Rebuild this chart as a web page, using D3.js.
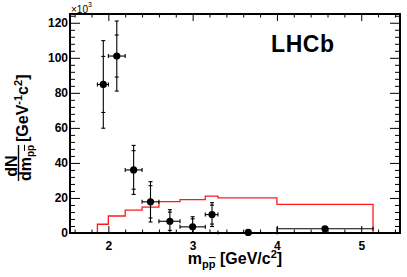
<!DOCTYPE html>
<html>
<head>
<meta charset="utf-8">
<script src="https://cdn.jsdelivr.net/npm/d3@7"></script>
<style>
  body { margin: 0; background: #fff; }
  text { font-family: "Liberation Sans", Arial, Helvetica, sans-serif; }
</style>
</head>
<body>
<svg id="chart" width="407" height="277"></svg>
<script>
// bins in m(p pbar) [GeV/c^2]
var binLo = [1.87, 2.0, 2.2, 2.4, 2.6, 2.85, 3.15, 3.3, 4.0];
var binHi = [2.0, 2.2, 2.4, 2.6, 2.85, 3.15, 3.3, 4.0, 5.14];
// data points (x10^3)
var ptX = [1.94, 2.10, 2.30, 2.50, 2.73, 3.00, 3.23, 3.66, 4.57];
var ptY = [84.8, 101, 36, 17.8, 6.7, 3.5, 10.5, 0.3, 2.4];
var errTot = [25, 20, 14, 11.5, 6.6, 5.8, 6.8, 0.4, 1.0];
var errStat = [16, 12, 11, 9.2, 5.2, 4.6, 5.4, 0.3, 0.7];
// red histogram (phase space)
var histY = [5.0, 9.7, 13.0, 14.8, 17.9, 19.0, 21.0, 20.1, 16.3];
// axis ticks
var xMajor = [2, 3, 4, 5];
var yMajor = [0, 20, 40, 60, 80, 100, 120];

var svg = d3.select("#chart");
var padL = 70, padR = 400, padT = 14, padB = 233;

var x = d3.scaleLinear().domain([1.545, 5.46]).range([padL, padR]);
var y = d3.scaleLinear().domain([0, 125]).range([padB, padT]);

var xMinor = d3.range(1.6, 5.45, 0.2).filter(function (v) {
    return Math.abs(v - Math.round(v)) > 0.01;
});
var yMinor = d3.range(0, 125, 4).filter(function (v) { return v % 20 !== 0; });

// ---- axes (ticks point inward, mirrored on top / right)
function addAxis(axis, tr) {
    var g = svg.append("g").attr("transform", tr).call(axis);
    g.select(".domain").remove();
    g.selectAll("line").attr("stroke", "#000").attr("stroke-width", 1);
    return g;
}
var xb = addAxis(d3.axisBottom(x).tickValues(xMajor).tickSize(-7).tickPadding(8)
    .tickFormat(d3.format("d")), "translate(0," + padB + ")");
addAxis(d3.axisBottom(x).tickValues(xMinor).tickSize(-3.5).tickFormat(""), "translate(0," + padB + ")");
addAxis(d3.axisTop(x).tickValues(xMajor).tickSize(-7).tickFormat(""), "translate(0," + padT + ")");
addAxis(d3.axisTop(x).tickValues(xMinor).tickSize(-3.5).tickFormat(""), "translate(0," + padT + ")");

var yl = addAxis(d3.axisLeft(y).tickValues(yMajor).tickSize(-10).tickPadding(2)
    .tickFormat(d3.format("d")), "translate(" + padL + ",0)");
addAxis(d3.axisLeft(y).tickValues(yMinor).tickSize(-5).tickFormat(""), "translate(" + padL + ",0)");
addAxis(d3.axisRight(y).tickValues(yMajor).tickSize(-10).tickFormat(""), "translate(" + padR + ",0)");
addAxis(d3.axisRight(y).tickValues(yMinor).tickSize(-5).tickFormat(""), "translate(" + padR + ",0)");

[xb, yl].forEach(function (g) {
    g.selectAll("text")
        .attr("font-family", "Liberation Sans, Arial, sans-serif")
        .attr("font-size", 12)
        .attr("font-weight", "bold")
        .attr("fill", "#000");
});

// ---- red histogram
var histPts = [[x(binLo[0]), y(0)]];
histY.forEach(function (v, i) {
    histPts.push([x(binLo[i]), y(v)]);
    histPts.push([x(binHi[i]), y(v)]);
});
histPts.push([x(binHi[binHi.length - 1]), y(0)]);
svg.append("path")
    .attr("d", d3.line()(histPts))
    .attr("fill", "none")
    .attr("stroke", "#ff1a1a")
    .attr("stroke-width", 1.3);

// ---- data points with errors
var pts = ptX.map(function (v, i) {
    return { x: v, y: ptY[i], lo: binLo[i], hi: binHi[i], et: errTot[i], es: errStat[i] };
});
var cap = 2;
var eg = svg.append("g").attr("stroke", "#000").attr("stroke-width", 1.1);
pts.forEach(function (d) {
    var cx = x(d.x), cy = y(d.y);
    var yTop = y(d.y + d.et), yBot = y(Math.max(0, d.y - d.et));
    eg.append("line").attr("x1", cx).attr("x2", cx).attr("y1", yTop).attr("y2", yBot);
    eg.append("line").attr("x1", x(d.lo)).attr("x2", x(d.hi)).attr("y1", cy).attr("y2", cy);
    // end caps: total and stat
    [d.y + d.et, d.y - d.et, d.y + d.es, d.y - d.es].forEach(function (v) {
        if (v < 0) return;
        eg.append("line").attr("x1", cx - cap).attr("x2", cx + cap)
            .attr("y1", y(v)).attr("y2", y(v));
    });
    [d.lo, d.hi].forEach(function (v) {
        eg.append("line").attr("x1", x(v)).attr("x2", x(v))
            .attr("y1", cy - cap).attr("y2", cy + cap);
    });
});
svg.append("g").selectAll("circle")
    .data(pts)
    .enter()
    .append("circle")
    .attr("cx", function (d) { return x(d.x); })
    .attr("cy", function (d) { return y(d.y); })
    .attr("r", 3.6)
    .attr("fill", "#000");

// ---- frame
svg.append("rect")
    .attr("x", padL).attr("y", padT)
    .attr("width", padR - padL).attr("height", padB - padT)
    .attr("fill", "none").attr("stroke", "#000").attr("stroke-width", 2);

// ---- x10^3
var mult = svg.append("text").attr("x", 71).attr("y", 13).attr("font-size", 10);
mult.append("tspan").text("\u00d710");
mult.append("tspan").attr("font-size", 7).attr("dy", -6).text("3");

// ---- LHCb label
svg.append("text")
    .attr("x", 271).attr("y", 51.5)
    .attr("font-size", 23).attr("font-weight", "bold")
    .attr("letter-spacing", 0.6)
    .text("LHCb");

// ---- x axis title
var xt = svg.append("text")
    .attr("x", (padL + padR) / 2).attr("y", 264)
    .attr("text-anchor", "middle")
    .attr("font-size", 16).attr("font-weight", "bold");
xt.append("tspan").text("m");
xt.append("tspan").attr("font-size", 11).attr("dy", 4).text("p");
xt.append("tspan").attr("font-size", 11).attr("text-decoration", "overline").text("p");
xt.append("tspan").attr("dy", -4).text(" [GeV/c");
xt.append("tspan").attr("font-size", 11).attr("dy", -6).text("2");
xt.append("tspan").attr("dy", 6).text("]");

// ---- y axis title (rotated)
var yt = svg.append("g").attr("transform", "translate(0,123) rotate(-90)");
yt.append("text")
    .attr("x", -43).attr("y", 16.5)
    .attr("text-anchor", "middle")
    .attr("font-size", 16).attr("font-weight", "bold")
    .text("dN");
yt.append("line")
    .attr("x1", -58).attr("x2", -22)
    .attr("y1", 18.5).attr("y2", 18.5)
    .attr("stroke", "#000").attr("stroke-width", 1.4);
var den = yt.append("text")
    .attr("x", -58).attr("y", 31)
    .attr("font-size", 16).attr("font-weight", "bold");
den.append("tspan").text("dm");
den.append("tspan").attr("font-size", 10).attr("dy", 3).text("p");
den.append("tspan").attr("font-size", 10).attr("text-decoration", "overline").text("p");
var unit = yt.append("text")
    .attr("x", -19).attr("y", 27.5)
    .attr("font-size", 16).attr("font-weight", "bold");
unit.append("tspan").text("[GeV");
unit.append("tspan").attr("font-size", 11).attr("dy", -6).text("-1");
unit.append("tspan").attr("dy", 6).text("c");
unit.append("tspan").attr("font-size", 11).attr("dy", -6).text("2");
unit.append("tspan").attr("dy", 6).text("]");
</script>
</body>
</html>
